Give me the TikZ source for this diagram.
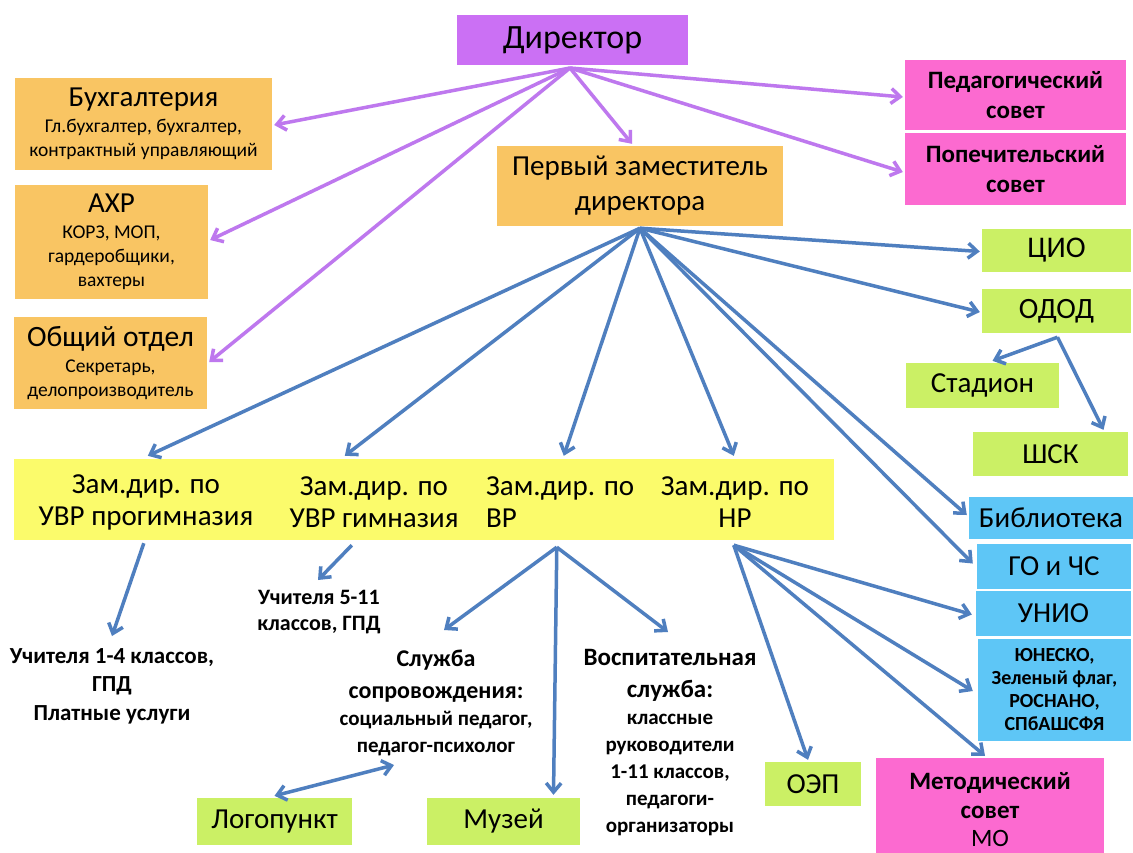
\documentclass[tikz,border=0pt]{standalone}
\usepackage{fontspec}
\setmainfont{Carlito}
\usetikzlibrary{arrows.meta,calc}
\definecolor{cviol}{HTML}{CB70F4}
\definecolor{corange}{HTML}{F9C563}
\definecolor{cpink}{HTML}{FC6AD0}
\definecolor{cgreen}{HTML}{CBF065}
\definecolor{cblueb}{HTML}{5EC6F6}
\definecolor{cyell}{HTML}{FBFB6B}
\definecolor{cparr}{HTML}{BE78EE}
\definecolor{cbarr}{HTML}{4F7FBF}
\newcommand{\fs}[2]{\fontsize{#1}{#2}\selectfont}
\begin{document}
\begin{tikzpicture}[x=1pt,y=-1pt,
  bx/.style={draw=none, inner sep=0pt, align=center, text=black},
  ftxt/.style={inner sep=0pt, align=center, text=black},
  parr/.style={draw=cparr, line width=3.5pt, -{Straight Barb[length=9pt,width=15pt,line width=3.5pt]}},
  barr/.style={draw=cbarr, line width=3.5pt, -{Straight Barb[length=9pt,width=15pt,line width=3.5pt]}},
  darr/.style={draw=cbarr, line width=3.5pt, {Straight Barb[length=9pt,width=15pt,line width=3.5pt]}-{Straight Barb[length=9pt,width=15pt,line width=3.5pt]}}
]
\useasboundingbox (0,0) rectangle (1133,852);
\fill[white] (0,0) rectangle (1133,852);

% boxes
\node[bx, fill=cviol, minimum width=231pt, minimum height=50pt, font=\fs{34}{38}] (dir) at (572.5,40) {Директор};
\node[bx, fill=corange, minimum width=257pt, minimum height=92pt, font=\fs{19.5}{24}] (buh) at (143.5,124) {{\fs{29}{30}Бухгалтерия}\\[2pt]Гл.бухгалтер, бухгалтер,\\контрактный управляющий};
\node[bx, fill=corange, minimum width=193pt, minimum height=114pt, font=\fs{19.5}{24}] (ahr) at (111.5,242) {{\fs{29}{30}АХР}\\[2pt]КОРЗ, МОП,\\гардеробщики,\\вахтеры};
\node[bx, fill=corange, minimum width=193pt, minimum height=92pt, font=\fs{19.5}{24}] (obsh) at (110.5,363) {{\fs{29.5}{30}Общий отдел}\\[2pt]Секретарь,\\делопроизводитель};
\node[bx, fill=corange, minimum width=286pt, minimum height=80pt, font=\fs{29}{35}] (perv) at (640,186) {Первый заместитель\\директора};
\node[bx, fill=cpink, minimum width=221pt, minimum height=70pt, font=\bfseries\fs{25}{30}] (ped) at (1015.5,95) {Педагогический\\совет};
\node[bx, fill=cpink, minimum width=221pt, minimum height=72pt, font=\bfseries\fs{25}{30}] (pop) at (1015.5,169) {Попечительский\\совет};
\node[bx, fill=cgreen, minimum width=149pt, minimum height=43pt, font=\fs{30}{30}] (cio) at (1056.5,250.5) {ЦИО};
\node[bx, fill=cgreen, minimum width=149pt, minimum height=44pt, font=\fs{29.5}{30}] (odod) at (1056.5,311) {ОДОД};
\node[bx, fill=cgreen, minimum width=153pt, minimum height=45pt, font=\fs{29}{30}] (stad) at (982.5,385.5) {Стадион};
\node[bx, fill=cgreen, minimum width=155pt, minimum height=44pt, font=\fs{29}{30}] (shsk) at (1050.5,454) {ШСК};
\node[bx, fill=cblueb, minimum width=164pt, minimum height=42pt, font=\fs{29}{30}] (bib) at (1051,518) {Библиотека};
\node[bx, fill=cblueb, minimum width=154pt, minimum height=45pt, font=\fs{29}{30}] (go) at (1054,566.5) {ГО и ЧС};
\node[bx, fill=cblueb, minimum width=155pt, minimum height=45pt, font=\fs{29}{30}] (unio) at (1053.5,613.5) {УНИО};
\node[bx, fill=cblueb, minimum width=153pt, minimum height=102pt, font=\bfseries\fs{20}{23}] (unesco) at (1054.5,690) {ЮНЕСКО,\\Зеленый флаг,\\РОСНАНО,\\СПбАШСФЯ};
\node[bx, fill=cpink, minimum width=228pt, minimum height=104pt, font=\fs{25}{28.5}] (met) at (990,810) {{\bfseries Методический}\\{\bfseries совет}\\МО};
\node[bx, fill=cgreen, minimum width=96pt, minimum height=44pt, font=\fs{29}{30}] (oep) at (813,784) {ОЭП};
\node[bx, fill=cgreen, minimum width=155pt, minimum height=47pt, font=\fs{29}{30}] (logo) at (274.5,821.5) {Логопункт};
\node[bx, fill=cgreen, minimum width=153pt, minimum height=47pt, font=\fs{29}{30}] (muz) at (503.5,821.5) {Музей};
\node[bx, fill=cyell, minimum width=820pt, minimum height=81pt] (band) at (424,499.5) {};

% band texts
\node[bx, font=\fs{29}{32}] (z1) at (146,502) {Зам.дир. по\\УВР прогимназия};
\node[bx, font=\fs{29}{32}] (z2) at (374,502) {Зам.дир. по\\УВР гимназия};
\node[bx, font=\fs{29}{32}, align=left, anchor=west] (z3) at (486,502) {Зам.дир. по\\ВР};
\node[bx, font=\fs{29}{32}] (z4) at (735,502) {Зам.дир. по\\НР};

% free texts
\node[ftxt, font=\bfseries\fs{23}{28.5}] (u14) at (112,686) {Учителя 1-4 классов,\\ГПД\\Платные услуги};
\node[ftxt, font=\bfseries\fs{22}{26}] (u511) at (319,612) {Учителя 5-11\\классов, ГПД};
\node[ftxt, font=\bfseries\fs{21}{27}] (sopr) at (436,703) {{\fs{24}{32}Служба}\\[5pt]{\fs{24}{32}сопровождения:}\\социальный педагог,\\педагог-психолог};
\node[ftxt, font=\bfseries\fs{21}{27}] (vosp) at (670,743) {{\fs{25}{32}Воспитательная}\\[5pt]{\fs{25}{32}служба:}\\классные\\руководители\\1-11 классов,\\педагоги-\\организаторы};

% connector end points
\coordinate (dirO) at (570,68);
\coordinate (pervO) at ($(perv.south)+(0,2)$);
\coordinate (ododO) at ($(odod.south)+(1,4)$);
\coordinate (z1O) at ($(band.south west)+(130,3)$);
\coordinate (z2O) at ($(band.south west)+(338,5)$);
\coordinate (vrO) at ($(band.south west)+(543,7)$);
\coordinate (nrO) at ($(band.south west)+(720,5)$);
\coordinate (u14T) at (112,636);
\coordinate (u511T) at (318,580);
\coordinate (soprT) at (444,630);
\coordinate (soprB) at (394,765);
\coordinate (vospT) at (668,632);

% purple arrows
\draw[parr] (dirO) -- ($(buh.east)+(2,1)$);
\draw[parr] (dirO) -- ($(ahr.east)+(2,-2)$);
\draw[parr] (dirO) -- ($(obsh.east)+(2,-1)$);
\draw[parr] (dirO) -- ($(perv.north)+(-8,-2)$);
\draw[parr] (dirO) -- ($(ped.west)+(-2,2)$);
\draw[parr] (dirO) -- ($(pop.west)+(-2,3)$);

% blue arrows from first deputy
\draw[barr] (pervO) -- ($(band.north west)+(134,-3)$);
\draw[barr] (pervO) -- ($(band.north west)+(331,-3)$);
\draw[barr] (pervO) -- ($(band.north west)+(550,-3)$);
\draw[barr] (pervO) -- ($(band.north west)+(720,-3)$);
\draw[barr] (pervO) -- ($(cio.west)+(-2,1)$);
\draw[barr] (pervO) -- ($(odod.west)+(-2,1)$);
\draw[barr] (pervO) -- ($(bib.west)+(-2,-3)$);
\draw[barr] (pervO) -- ($(go.west)+(-4,-3)$);

% ODOD
\draw[barr] (ododO) -- ($(stad.north)+(10,-2)$);
\draw[barr] (ododO) -- ($(shsk.north)+(53,-2)$);

% from band
\draw[barr] (z1O) -- (u14T);
\draw[barr] (z2O) -- (u511T);
\draw[barr] (vrO) -- (soprT);
\draw[barr] (vrO) -- ($(muz.north)+(50,-3)$);
\draw[barr] (vrO) -- (vospT);
\draw[darr] (soprB) -- ($(logo.north)+(0,-2)$);

% from NR
\draw[barr] (nrO) -- ($(oep.north)+(-5,-2)$);
\draw[barr] (nrO) -- ($(unio.west)+(-4,1)$);
\draw[barr] (nrO) -- ($(unesco.west)+(-5,1)$);
\draw[barr] (nrO) -- ($(met.north)+(-5,-2)$);
\end{tikzpicture}
\end{document}
